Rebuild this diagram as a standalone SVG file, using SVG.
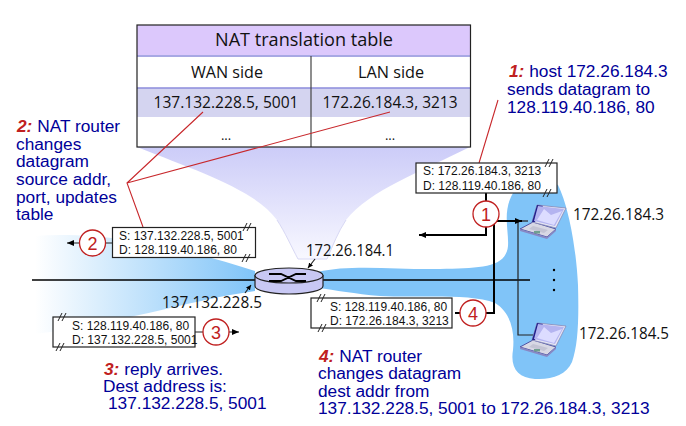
<svg xmlns="http://www.w3.org/2000/svg" width="686" height="426" viewBox="0 0 686 426">
<style>
.c{font-family:"Open Sans","DejaVu Sans",sans-serif;fill:#111}
.b{font-family:"Liberation Sans",Arial,sans-serif;font-size:17.3px;fill:#000099}
.r{font-family:"Liberation Sans",Arial,sans-serif;font-size:17.3px;font-weight:bold;font-style:italic;fill:#c02020}
.p{font-family:"Liberation Sans",Arial,sans-serif;font-size:12px;fill:#111}
.box{fill:#fff;stroke:#222;stroke-width:1.2}
.circ{fill:#fff;stroke:#c02020;stroke-width:1.3}
.n{font-family:"Liberation Sans",Arial,sans-serif;font-size:18px;fill:#c02020;text-anchor:middle}
.th{fill:none;stroke:#000;stroke-width:2}
.tn{fill:none;stroke:#222;stroke-width:1.2}
.red{fill:none;stroke:#c8282c;stroke-width:1.1}
</style>
<defs>
<linearGradient id="lg" gradientUnits="userSpaceOnUse" x1="35" y1="0" x2="255" y2="0"><stop offset="0" stop-color="#fff"/><stop offset="1" stop-color="#80c4f8"/></linearGradient>
<linearGradient id="fg" gradientUnits="userSpaceOnUse" x1="0" y1="147" x2="0" y2="259"><stop offset="0" stop-color="#ccccf8"/><stop offset="1" stop-color="#f8f8ff"/></linearGradient>
<marker id="a" markerWidth="8" markerHeight="6" refX="7" refY="3" orient="auto" markerUnits="userSpaceOnUse"><path d="M0 0L7 3L0 6z" fill="#000"/></marker>
<marker id="s" markerWidth="6" markerHeight="5" refX="5" refY="2.500" orient="auto" markerUnits="userSpaceOnUse"><path d="M0 0L5 2.500L0 5z" fill="#000"/></marker>
<g id="lap">
<path d="M0 25L13 18L36 25L27 33z" fill="#d8d8e4" stroke="#44449a" stroke-width=".9"/>
<path d="M0 25L27 33L36 25L36 27L27 35L0 27z" fill="#8888c4"/>
<path d="M9 25L13 22L28 26L24 29z" fill="#c4c4d4"/>
<rect x="14" y="27" width="6" height="2.500" fill="#70a090"/>
<path d="M17 1L46 4L36 24L12 18z" fill="#e8e8f4" stroke="#8888b8" stroke-width=".8"/>
<path d="M17 1L23 2L15 18L12 18z" fill="#20208c"/>
<path d="M18 2L44 5L35 22L14 17z" fill="#b4b4f0"/>
<path d="M24 5L31 11L42 7L34 21L17 16z" fill="#dcdcff"/>
</g>
<g id="brk"><path d="M-3 4L1 -4M1 4L5 -4" stroke="#222" stroke-width="1" fill="none"/></g>
</defs>

<g id="funnel"><path d="M137 147C200 172 255 190 277 220C285 232 292 248 298 259L327 259C333 245 338 232 346 220C370 190 420 172 470 147z" fill="url(#fg)"/><path d="M277 220C285 232 292 248 298 259L327 259C333 245 338 232 346 220" fill="none" stroke="#d8d8f4"/></g>
<g id="wan-blob"><path d="M34 236C90 232 160 240 255 271L255 291C190 300 110 326 34 334z" fill="url(#lg)"/></g>
<g id="lan-blob"><path d="M318 272C350 264 400 270 440 269C480 268 506 268 508 246C509 230 502 212 513 193C522 180 545 176 558 185C568 205 576 245 578 285C579 320 578 345 572 362C566 375 552 380 535 379C518 378 510 368 513 350C515 330 510 312 495 303C470 293 420 298 380 296C355 294 335 290 318 288z" fill="#80c4f8"/></g>

<g id="connectors">
<path d="M32 280H530" stroke="#000" stroke-width="1.600" fill="none"/>
<path class="tn" d="M518 221V335H533"/>
<path class="tn" d="M518 221H528"/>
<path class="th" d="M486 193V235H419" marker-end="url(#a)"/>
<path class="th" d="M455 313H494V221H522" marker-end="url(#a)"/>
<path d="M112 243H67" class="tn" marker-end="url(#a)"/>
<path d="M195 332H239" class="tn" marker-end="url(#a)"/>
<path d="M245 293L251 285" class="tn" marker-end="url(#s)"/>
<path d="M315 259L308 268" class="tn" marker-end="url(#s)"/>
</g>

<g id="table">
<rect x="137" y="25" width="333.500" height="122" fill="#fff"/>
<rect x="137" y="25" width="333.500" height="30" fill="#dcc8fc"/>
<rect x="137" y="88" width="333.500" height="29" fill="#d4d4f0"/>
<path d="M137 56H470M137 88H470" stroke="#8c8cdc" stroke-width="1.500"/>
<path d="M311 56V147" stroke="#444" stroke-width="1.200"/>
<rect x="137" y="25" width="333.500" height="122" fill="none" stroke="#222" stroke-width="1.200"/>
<text class="c" x="304" y="46" font-size="19" text-anchor="middle" textLength="178" lengthAdjust="spacingAndGlyphs">NAT translation table</text>
<text class="c" x="227" y="78" font-size="16" text-anchor="middle" textLength="72" lengthAdjust="spacingAndGlyphs">WAN side</text>
<text class="c" x="391" y="78" font-size="16" text-anchor="middle" textLength="66" lengthAdjust="spacingAndGlyphs">LAN side</text>
<text class="c" x="226" y="108" font-size="16" text-anchor="middle" textLength="145" lengthAdjust="spacingAndGlyphs">137.132.228.5, 5001</text>
<text class="c" x="390" y="108" font-size="16" text-anchor="middle" textLength="135" lengthAdjust="spacingAndGlyphs">172.26.184.3, 3213</text>
<text class="c" x="226" y="140" font-size="13" text-anchor="middle">...</text>
<text class="c" x="390" y="140" font-size="13" text-anchor="middle">...</text>
</g>

<g id="annot-lines">
<path class="red" d="M203 112L127 183L143 227M127 183L390 112M498 100L479 163"/>
</g>

<g id="router">
<path d="M255 275.500V286A34 8 0 0 0 323 286V275.500z" fill="#c8c8f4" stroke="#222" stroke-width="1.200"/>
<ellipse cx="289" cy="275.500" rx="34" ry="7.500" fill="#c8c8f4" stroke="#222" stroke-width="1.200"/>
<path d="M269 274H281L296 281H306M269 281H281L296 274H306" stroke="#000" stroke-width="1.800" fill="none"/>
</g>

<g id="packet1"><rect class="box" x="416" y="163" width="141" height="30"/><use href="#brk" x="548" y="163"/><use href="#brk" x="546" y="193"/><text class="p" x="423" y="175">S: 172.26.184.3, 3213</text><text class="p" x="423" y="190">D: 128.119.40.186, 80</text></g>
<g id="packet2"><rect class="box" x="112.500" y="227.500" width="143" height="30"/><use href="#brk" x="246" y="227"/><use href="#brk" x="245" y="258"/><text class="p" x="119" y="240">S: 137.132.228.5, 5001</text><text class="p" x="119" y="254">D: 128.119.40.186, 80</text></g>
<g id="packet3"><rect class="box" x="53" y="317" width="142" height="30"/><use href="#brk" x="61" y="317"/><use href="#brk" x="59" y="347"/><text class="p" x="72" y="330">S: 128.119.40.186, 80</text><text class="p" x="72" y="344">D: 137.132.228.5, 5001</text></g>
<g id="packet4"><rect class="box" x="311" y="298" width="141" height="30"/><use href="#brk" x="320" y="298"/><use href="#brk" x="321" y="328"/><text class="p" x="330" y="311">S: 128.119.40.186, 80</text><text class="p" x="330" y="325">D: 172.26.184.3, 3213</text></g>

<g id="c1"><circle class="circ" cx="486" cy="214" r="13"/><text class="n" x="486" y="220.500">1</text></g>
<g id="c2"><circle class="circ" cx="92.500" cy="243" r="13"/><text class="n" x="92.500" y="249.500">2</text></g>
<g id="c3"><circle class="circ" cx="216" cy="332" r="13"/><text class="n" x="216" y="338.500">3</text></g>
<g id="c4"><circle class="circ" cx="473" cy="313" r="13"/><text class="n" x="473" y="319.500">4</text></g>

<g id="host1"><use href="#lap" x="520" y="204"/><text class="c" x="573" y="220" font-size="17" textLength="91" lengthAdjust="spacingAndGlyphs">172.26.184.3</text></g>
<g id="host2"><use href="#lap" x="520" y="322"/><text class="c" x="579" y="339" font-size="17" textLength="90" lengthAdjust="spacingAndGlyphs">172.26.184.5</text></g>
<g id="dots"><circle cx="554" cy="270" r="1.200"/><circle cx="554" cy="280" r="1.200"/><circle cx="554" cy="290" r="1.200"/></g>

<text class="c" x="306" y="256" font-size="17" textLength="88" lengthAdjust="spacingAndGlyphs">172.26.184.1</text>
<text class="c" x="162" y="308" font-size="17" textLength="100" lengthAdjust="spacingAndGlyphs">137.132.228.5</text>

<g id="note1"><text x="509" y="77"><tspan class="r">1:</tspan><tspan class="b"> host 172.26.184.3</tspan></text><text class="b" x="507" y="95">sends datagram to</text><text class="b" x="507" y="113">128.119.40.186, 80</text></g>
<g id="note2"><text x="17" y="132"><tspan class="r">2:</tspan><tspan class="b"> NAT router</tspan></text><text class="b" x="16" y="150">changes</text><text class="b" x="16" y="167">datagram</text><text class="b" x="16" y="185">source addr,</text><text class="b" x="16" y="203">port, updates</text><text class="b" x="16" y="220">table</text></g>
<g id="note3"><text x="104" y="375"><tspan class="r">3:</tspan><tspan class="b"> reply arrives.</tspan></text><text class="b" x="103" y="392">Dest address is:</text><text class="b" x="108" y="409">137.132.228.5, 5001</text></g>
<g id="note4"><text x="319" y="362"><tspan class="r">4:</tspan><tspan class="b"> NAT router</tspan></text><text class="b" x="318" y="379">changes datagram</text><text class="b" x="318" y="397">dest addr from</text><text class="b" x="318" y="414">137.132.228.5, 5001 to 172.26.184.3, 3213</text></g>
</svg>
